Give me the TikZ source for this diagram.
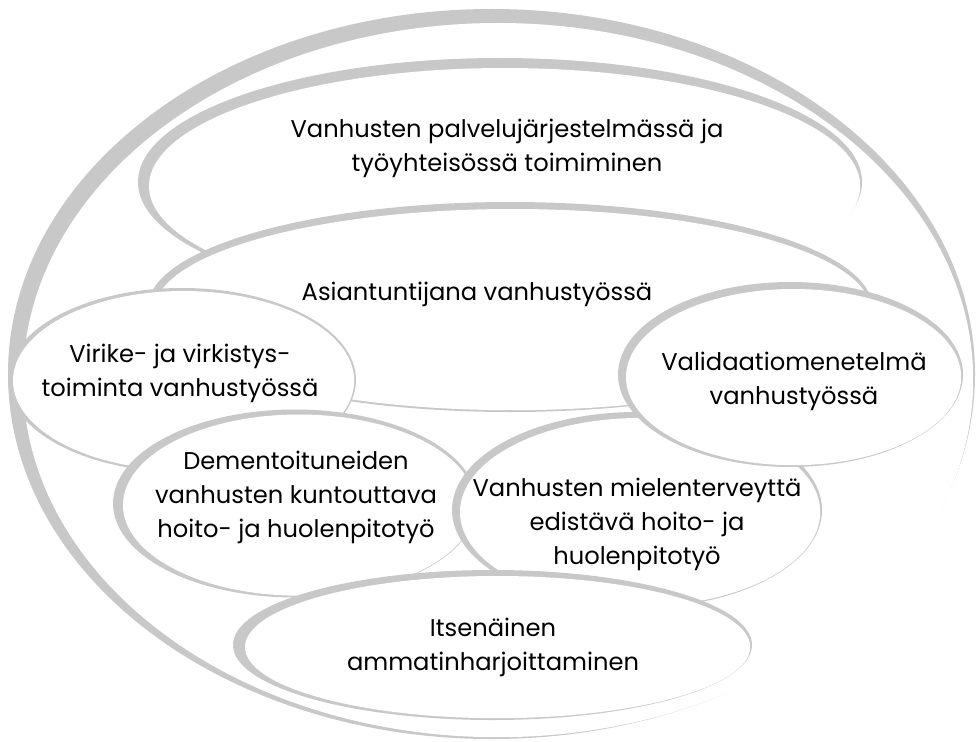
\documentclass[tikz,border=0pt]{standalone}
\usepackage{fontspec}
\setmainfont{Poppins}
\definecolor{rim}{RGB}{200,200,200}
% #1 cx, #2 cy, #3 rx, #4 ry, #5 left thickness, #6 top thickness
\newcommand\rimellipse[6]{%
  \fill[rim] (#1,#2) ellipse [x radius=#3, y radius=#4];
  \fill[white] ({#1+(#5-1.8)/2},{#2+(#6-1.8)/2}) ellipse [x radius={#3-(#5+1.8)/2}, y radius={#4-(#6+1.8)/2}];
}
\begin{document}
\begin{tikzpicture}[x=1pt,y=-1pt,
  lbl/.style={align=center, inner sep=0pt, font=\fontsize{24.2}{34}\selectfont}]
\useasboundingbox (0,0) rectangle (979,741);
\fill[white] (0,0) rectangle (979,741);
% outer
\rimellipse{491.5}{374}{483.5}{365}{15}{14}
% top
\rimellipse{500}{182}{362}{124}{11}{10}
% Asiantuntijana
\rimellipse{510}{307}{362}{105}{7}{7}
% Virike
\rimellipse{182}{380}{174}{92}{5}{3}
% Dementoituneiden
\rimellipse{295}{503.5}{182}{94}{10}{5}
% mielenterveys
\rimellipse{637}{510}{185}{98}{8}{6}
% Validaatio
\rimellipse{790.5}{374.5}{172.5}{92.5}{8}{7}
% Itsenainen
\rimellipse{492.5}{645}{259.5}{75}{12}{6}

\node[lbl] (t1) at (507,148) {Vanhusten palvelujärjestelmässä ja\\työyhteisössä toimiminen};
\node[lbl] (t2) at (477,294) {Asiantuntijana vanhustyössä};
\node[lbl] (t3) at (180,373) {Virike- ja virkistys-\\toiminta vanhustyössä};
\node[lbl] (t4) at (794,381) {Validaatiomenetelmä\\vanhustyössä};
\node[lbl] (t5) at (296,497) {Dementoituneiden\\vanhusten kuntouttava\\hoito- ja huolenpitotyö};
\node[lbl] (t6) at (637,524) {Vanhusten mielenterveyttä\\edistävä hoito- ja\\huolenpitotyö};
\node[lbl] (t7) at (493,647) {Itsenäinen\\ammatinharjoittaminen};
\end{tikzpicture}
\end{document}
